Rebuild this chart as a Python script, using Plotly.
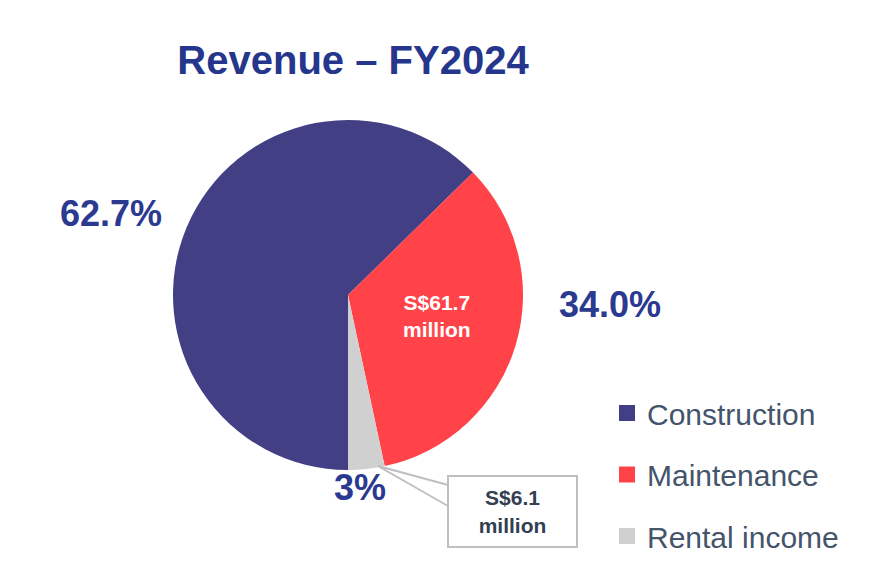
import plotly.graph_objects as go

# revenue FY2024, S$ million
segments = ["Construction", "Maintenance", "Rental income"]
revenue = [113.8, 61.7, 6.1]
pct_labels = ["62.7%", "34.0%", "3%"]
colors = ["#433F85", "#FF4349", "#D0D0D0"]

W, H = 883, 573
OFF = 8  # page body margin
FONT = "Arial, Liberation Sans, sans-serif"
NAVY = "#2B3990"


def px(x, y):
    # pixel position in the picture -> paper coords
    return (x - OFF) / W, 1 - (y - OFF) / H


fig = go.Figure()

cx, cy, r = 348, 295, 175
dx0, dy0 = px(cx - r, cy + r)
dx1, dy1 = px(cx + r, cy - r)
fig.add_trace(go.Pie(labels=segments, values=revenue,
                     marker=dict(colors=colors, line=dict(width=0)),
                     sort=False, direction="clockwise", rotation=180,
                     textinfo="none", hoverinfo="label+value+percent",
                     showlegend=False,
                     domain=dict(x=[dx0, dx1], y=[dy0, dy1])))

# legend entries (pie legend can't be spaced out)
for name, c in zip(segments, colors):
    fig.add_trace(go.Scatter(x=[None], y=[None], mode="markers", name=name,
                             legendgroup=name,
                             marker=dict(symbol="square", size=16, color=c)))

annos = []
pos = [(111, 213), (610, 304), (360, 487)]
for t, (x, y) in zip(pct_labels, pos):
    ax, ay = px(x, y)
    annos.append(dict(x=ax, y=ay, xref="paper", yref="paper", text="<b>%s</b>" % t,
                      xanchor="center", yanchor="middle", showarrow=False,
                      font=dict(size=36, color=NAVY, family=FONT)))

ax, ay = px(437, 316)
annos.append(dict(x=ax, y=ay, xref="paper", yref="paper",
                  text="<b>S$%.1f<br>million</b>" % revenue[1], showarrow=False,
                  xanchor="center", yanchor="middle",
                  font=dict(size=21, color="white", family=FONT)))

ax, ay = px(512.5, 511.5)
annos.append(dict(x=ax, y=ay, xref="paper", yref="paper",
                  text="<b>S$%.1f<br>million</b>" % revenue[2], showarrow=False,
                  xanchor="center", yanchor="middle",
                  font=dict(size=21, color="#333F50", family=FONT),
                  bgcolor="white", bordercolor="#BFBFBF", borderwidth=2,
                  borderpad=0, width=127, height=69))

# callout wedge
x0, y0 = px(378, 466)
x1, y1 = px(448, 485)
x2, y2 = px(448, 506)
fig.add_shape(type="path", xref="paper", yref="paper",
              path="M %f %f L %f %f M %f %f L %f %f" % (x0, y0, x1, y1, x0, y0, x2, y2),
              line=dict(color="#BFBFBF", width=2))

tx, ty = px(353, 60)
lx, ly = px(607, 387)
fig.update_layout(
    width=W, height=H,
    margin=dict(l=0, r=0, t=0, b=0),
    paper_bgcolor="white", plot_bgcolor="white",
    title=dict(text="<b>Revenue – FY2024</b>", x=tx, xanchor="center",
               y=ty, yanchor="middle",
               font=dict(size=40, color="#25368C", family=FONT)),
    xaxis=dict(visible=False), yaxis=dict(visible=False),
    legend=dict(x=lx, xanchor="left", y=ly, yanchor="top",
                font=dict(size=30, color="#44546A", family=FONT),
                tracegroupgap=19.5, bgcolor="rgba(0,0,0,0)"),
    annotations=annos,
)

fig.write_html("out.html")
